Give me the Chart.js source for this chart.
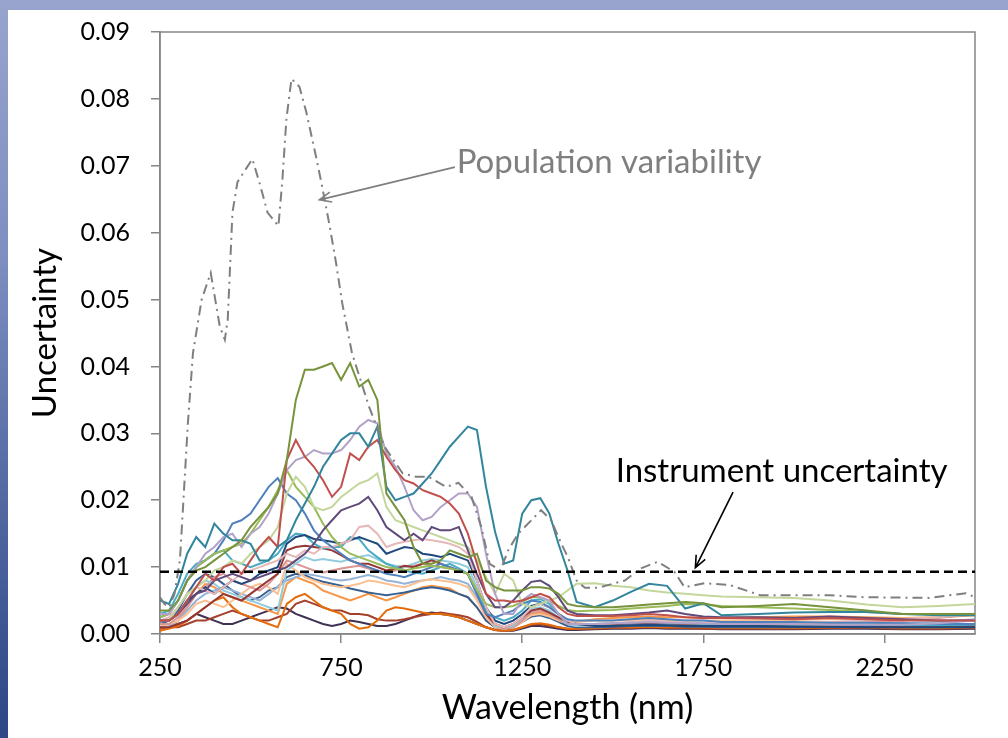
<!DOCTYPE html>
<html>
<head>
<meta charset="utf-8">
<script src="https://cdn.jsdelivr.net/npm/chart.js@4.4.0/dist/chart.umd.min.js"></script>
<style>
  html, body { margin: 0; padding: 0; }
  body {
    width: 1008px; height: 738px; overflow: hidden; position: relative;
    background: linear-gradient(to bottom, #98a4cd 0%, #7d8ec0 35%, #4f66a0 70%, #2c4785 100%);
  }
  #panel { position: absolute; left: 8px; top: 10px; width: 1000px; height: 728px; background: #fff; }
</style>
</head>
<body>
<div id="panel"><canvas id="chart" width="1000" height="728"></canvas></div>
<script>
// wavelength grid (nm) shared by the sample curves
const wavelengths = [250,275,300,325,350,375,400,425,450,475,
  500,525,550,575,600,625,650,675,700,725,
  750,775,800,825,850,875,900,925,950,975,
  1000,1025,1050,1075,1100,1125,1150,1175,1200,1225,
  1250,1275,1300,1325,1350,1375,1400,
  1450,1500,1550,1600,1650,1700,1750,1800,
  1900,2000,2100,2200,2300,2400,2500];

const xTicks = [250, 750, 1250, 1750, 2250];

const olive = [0.0035,0.0035,0.005,0.008,0.0095,0.010,0.011,0.012,0.013,0.014,
  0.016,0.0175,0.019,0.021,0.026,0.035,0.0395,0.0395,0.040,0.0405,
  0.038,0.0405,0.037,0.038,0.035,0.021,0.019,0.017,0.013,0.0105,
  0.0105,0.011,0.0125,0.012,0.0115,0.012,0.008,0.007,0.0065,0.0065,
  0.0065,0.007,0.007,0.0068,0.006,0.0045,0.0042,
  0.004,0.004,0.0042,0.0044,0.0046,0.0048,0.0046,0.004,
  0.0042,0.0045,0.004,0.0035,0.003,0.003,0.003];

const teal = [0.005,0.0045,0.0075,0.012,0.0145,0.013,0.0165,0.015,0.014,0.014,
  0.0135,0.011,0.011,0.013,0.014,0.017,0.0195,0.022,0.025,0.027,
  0.029,0.030,0.030,0.028,0.031,0.022,0.020,0.0205,0.021,0.0225,
  0.024,0.026,0.028,0.0295,0.031,0.0305,0.022,0.0153,0.0105,0.011,
  0.018,0.020,0.0203,0.018,0.0135,0.0095,0.0048,
  0.004,0.005,0.0063,0.0075,0.0072,0.0038,0.0046,0.0028,
  0.003,0.0032,0.0033,0.0033,0.003,0.0028,0.0028];

const red = [0.002,0.002,0.003,0.005,0.007,0.009,0.008,0.010,0.0105,0.009,
  0.011,0.013,0.0145,0.013,0.026,0.029,0.0265,0.025,0.023,0.0205,
  0.022,0.027,0.026,0.028,0.029,0.0265,0.0245,0.023,0.0225,0.0215,
  0.021,0.0205,0.0195,0.018,0.015,0.0105,0.006,0.005,0.005,0.0048,
  0.005,0.0055,0.006,0.0055,0.004,0.003,0.0027,
  0.0027,0.0027,0.0028,0.003,0.0028,0.0025,0.0024,0.0024,
  0.0023,0.0022,0.0024,0.0022,0.002,0.002,0.002];

const lavender = [0.003,0.003,0.005,0.008,0.010,0.012,0.013,0.0145,0.015,0.013,
  0.015,0.016,0.018,0.021,0.0245,0.026,0.0265,0.0275,0.027,0.027,
  0.0275,0.029,0.031,0.032,0.0315,0.027,0.025,0.022,0.0185,0.017,
  0.0175,0.019,0.020,0.021,0.021,0.019,0.012,0.006,0.003,0.003,
  0.005,0.006,0.0055,0.005,0.003,0.0015,0.0015,
  0.0015,0.0016,0.0017,0.0018,0.0017,0.0016,0.0016,0.0015,
  0.0015,0.0015,0.0014,0.0014,0.0014,0.0016,0.002];

const paleGreen = [0.002,0.002,0.004,0.006,0.007,0.008,0.0095,0.010,0.011,0.0105,
  0.012,0.013,0.014,0.016,0.021,0.0235,0.022,0.019,0.0185,0.019,
  0.0205,0.0215,0.0225,0.023,0.024,0.019,0.017,0.0165,0.016,0.0155,
  0.015,0.0145,0.014,0.0135,0.013,0.011,0.0085,0.006,0.009,0.008,
  0.0045,0.004,0.0045,0.005,0.0055,0.0065,0.0075,
  0.0076,0.0072,0.007,0.0065,0.0062,0.006,0.0058,0.0056,
  0.0055,0.0054,0.005,0.0044,0.004,0.0042,0.0045];

const green = [0.0025,0.003,0.005,0.008,0.010,0.011,0.012,0.0125,0.013,0.0135,
  0.015,0.017,0.019,0.0215,0.0245,0.022,0.0205,0.019,0.0165,0.0145,
  0.013,0.012,0.0115,0.011,0.0105,0.010,0.0098,0.0095,0.0098,0.010,
  0.0102,0.010,0.0098,0.0095,0.009,0.0065,0.0045,0.004,0.004,0.0042,
  0.0048,0.0055,0.0055,0.005,0.0042,0.0036,0.0034,
  0.0035,0.0036,0.0038,0.004,0.0042,0.0045,0.0044,0.0042,
  0.004,0.0038,0.0036,0.0033,0.003,0.003,0.0028];

const purple = [0.002,0.002,0.003,0.0045,0.006,0.0065,0.008,0.0085,0.009,0.0085,
  0.008,0.0085,0.009,0.0095,0.010,0.011,0.012,0.0135,0.0155,0.017,
  0.0185,0.019,0.0195,0.0205,0.0185,0.016,0.015,0.014,0.015,0.014,
  0.016,0.0155,0.0155,0.016,0.0125,0.009,0.006,0.004,0.004,0.005,
  0.0065,0.0078,0.008,0.0072,0.0055,0.0035,0.003,
  0.0028,0.0028,0.003,0.0032,0.0035,0.003,0.0026,0.0025,
  0.0025,0.0024,0.0026,0.0024,0.0022,0.002,0.002];

const blue = [0.0025,0.003,0.005,0.008,0.010,0.011,0.012,0.014,0.0165,0.017,
  0.018,0.020,0.022,0.0233,0.021,0.020,0.018,0.0155,0.014,0.013,
  0.012,0.011,0.0105,0.010,0.0095,0.009,0.0088,0.0085,0.009,0.0095,
  0.010,0.0105,0.010,0.0095,0.009,0.006,0.003,0.0025,0.003,0.0035,
  0.0045,0.005,0.0048,0.004,0.003,0.0022,0.002,
  0.002,0.002,0.0022,0.0024,0.0022,0.002,0.002,0.0018,
  0.0018,0.0018,0.0017,0.0017,0.0016,0.0015,0.0015];

const navy = [0.002,0.002,0.003,0.005,0.006,0.007,0.006,0.007,0.008,0.0075,
  0.008,0.009,0.0095,0.010,0.0135,0.0145,0.0148,0.0142,0.014,0.0138,
  0.0135,0.014,0.0145,0.014,0.0135,0.012,0.0125,0.013,0.0128,0.012,
  0.0118,0.0115,0.012,0.0115,0.011,0.008,0.004,0.002,0.0015,0.002,
  0.003,0.0042,0.0045,0.004,0.003,0.002,0.0015,
  0.0012,0.0012,0.0013,0.0014,0.0013,0.0012,0.0012,0.0012,
  0.0012,0.0011,0.0011,0.001,0.001,0.001,0.001];

const aqua = [0.003,0.0035,0.006,0.009,0.0105,0.011,0.012,0.0125,0.011,0.0105,
  0.010,0.0105,0.011,0.012,0.014,0.015,0.0148,0.0135,0.0128,0.013,
  0.013,0.0145,0.0142,0.0125,0.0115,0.0105,0.010,0.0095,0.0092,0.009,
  0.0095,0.010,0.0105,0.0098,0.009,0.006,0.0035,0.0025,0.002,0.0025,
  0.0035,0.005,0.0052,0.0045,0.003,0.002,0.0015,
  0.0015,0.0016,0.0017,0.0018,0.0017,0.0016,0.0015,0.0015,
  0.0015,0.0014,0.0014,0.0014,0.0013,0.0013,0.0014];

const darkRed = [0.001,0.001,0.0015,0.002,0.003,0.004,0.005,0.006,0.0055,0.005,
  0.006,0.007,0.008,0.009,0.0125,0.013,0.0132,0.013,0.0128,0.0125,
  0.0118,0.011,0.0105,0.0105,0.010,0.0095,0.0098,0.0102,0.010,0.0105,
  0.011,0.0105,0.010,0.0095,0.009,0.006,0.003,0.0015,0.001,0.0015,
  0.0025,0.0035,0.0038,0.0032,0.0025,0.0018,0.0015,
  0.0015,0.0015,0.0016,0.0017,0.0016,0.0015,0.0015,0.0014,
  0.0014,0.0014,0.0013,0.0013,0.0012,0.0012,0.0012];

const pink = [0.002,0.0025,0.004,0.006,0.007,0.0065,0.006,0.007,0.008,0.009,
  0.0095,0.010,0.0105,0.011,0.012,0.0115,0.0125,0.012,0.013,0.013,
  0.0135,0.014,0.016,0.0162,0.015,0.013,0.0135,0.0138,0.014,0.0142,
  0.014,0.0138,0.0135,0.013,0.012,0.008,0.004,0.0015,0.001,0.0015,
  0.0025,0.004,0.0045,0.004,0.003,0.002,0.0015,
  0.0015,0.0016,0.0018,0.002,0.0019,0.0017,0.0016,0.0016,
  0.0016,0.0017,0.0018,0.002,0.0022,0.0025,0.003];

const orange = [0.001,0.001,0.002,0.004,0.006,0.0075,0.007,0.006,0.0055,0.005,
  0.0045,0.004,0.0035,0.003,0.0075,0.0085,0.008,0.0075,0.0065,0.006,
  0.0055,0.005,0.0055,0.006,0.0055,0.005,0.0055,0.006,0.0065,0.007,
  0.0072,0.007,0.0068,0.006,0.0055,0.004,0.002,0.001,0.0008,0.001,
  0.002,0.003,0.0032,0.0028,0.002,0.0015,0.0018,
  0.0022,0.0024,0.0025,0.0026,0.0025,0.0025,0.0024,0.0024,
  0.0025,0.0026,0.0026,0.0025,0.0024,0.0025,0.0028];

const darkOrange = [0.0005,0.0008,0.0012,0.002,0.003,0.004,0.005,0.0055,0.004,0.003,
  0.0025,0.002,0.0015,0.001,0.0045,0.0055,0.006,0.005,0.004,0.0035,
  0.003,0.0015,0.0008,0.001,0.002,0.0035,0.004,0.0038,0.0035,0.0032,
  0.003,0.003,0.0028,0.0025,0.002,0.0015,0.001,0.0006,0.0005,0.0006,
  0.001,0.0015,0.0016,0.0014,0.001,0.0008,0.0008,
  0.0009,0.001,0.001,0.0011,0.001,0.001,0.001,0.0009,
  0.0009,0.0009,0.001,0.001,0.0009,0.0009,0.001];

const darkPurple = [0.001,0.001,0.0015,0.002,0.003,0.0025,0.002,0.0015,0.0015,0.002,
  0.0025,0.003,0.0035,0.004,0.0038,0.003,0.0025,0.002,0.0015,0.0012,
  0.0015,0.002,0.0018,0.0015,0.0012,0.0012,0.0015,0.002,0.0025,0.003,
  0.0032,0.003,0.0028,0.0025,0.002,0.0015,0.001,0.0006,0.0005,0.0005,
  0.0008,0.0012,0.0012,0.001,0.0008,0.0006,0.0006,
  0.0007,0.0008,0.0008,0.0009,0.0008,0.0008,0.0008,0.0007,
  0.0007,0.0007,0.0008,0.0008,0.0007,0.0007,0.0008];

const brick = [0.0008,0.001,0.001,0.0015,0.002,0.002,0.0025,0.003,0.0035,0.003,
  0.0025,0.002,0.002,0.0025,0.003,0.0045,0.005,0.0045,0.004,0.0035,
  0.0035,0.003,0.003,0.0028,0.0022,0.002,0.002,0.0022,0.0025,0.0028,
  0.003,0.0032,0.003,0.0028,0.0025,0.0018,0.001,0.0006,0.0005,0.0006,
  0.001,0.0014,0.0015,0.0012,0.001,0.0008,0.0008,
  0.0008,0.0009,0.0009,0.001,0.0009,0.0009,0.0008,0.0008,
  0.0008,0.0008,0.0009,0.0009,0.0008,0.0008,0.0009];

const lightBlue = [0.002,0.002,0.003,0.005,0.007,0.008,0.0075,0.0065,0.006,0.0055,
  0.005,0.0045,0.004,0.0035,0.0095,0.0105,0.0115,0.011,0.0112,0.011,
  0.0108,0.0112,0.0115,0.0118,0.0112,0.0105,0.0102,0.010,0.0105,0.011,
  0.0112,0.011,0.0108,0.0105,0.010,0.007,0.0035,0.0012,0.001,0.0012,
  0.0025,0.0038,0.004,0.0035,0.0025,0.0015,0.0012,
  0.0013,0.0014,0.0015,0.0016,0.0015,0.0014,0.0014,0.0013,
  0.0013,0.0013,0.0014,0.0015,0.0016,0.0018,0.002];

const salmon = [0.0015,0.0015,0.0025,0.004,0.006,0.007,0.0085,0.009,0.008,0.0075,
  0.007,0.0065,0.0075,0.009,0.011,0.0105,0.010,0.0095,0.0092,0.0095,
  0.0098,0.010,0.0102,0.0098,0.0095,0.0092,0.0095,0.010,0.0102,0.0105,
  0.0102,0.010,0.0098,0.0095,0.009,0.0065,0.003,0.0012,0.0008,0.001,
  0.002,0.0032,0.0035,0.003,0.0022,0.0015,0.0012,
  0.0012,0.0013,0.0014,0.0015,0.0014,0.0013,0.0013,0.0013,
  0.0014,0.0015,0.0016,0.0018,0.002,0.0024,0.003];

const lightOrange = [0.0012,0.0015,0.002,0.003,0.0045,0.005,0.0045,0.004,0.005,0.006,
  0.007,0.0075,0.007,0.006,0.0105,0.0095,0.0085,0.008,0.0075,0.0072,
  0.007,0.0072,0.0075,0.008,0.0078,0.0075,0.0072,0.007,0.0075,0.008,
  0.0082,0.008,0.0078,0.0075,0.007,0.005,0.0025,0.001,0.0008,0.001,
  0.0018,0.0028,0.003,0.0026,0.002,0.0016,0.0018,
  0.002,0.002,0.0021,0.0022,0.0021,0.002,0.002,0.002,
  0.002,0.0021,0.0022,0.0022,0.0023,0.0025,0.003];

const blueGray = [0.001,0.0012,0.002,0.0035,0.005,0.006,0.0065,0.007,0.0065,0.006,
  0.0055,0.005,0.006,0.007,0.008,0.0085,0.009,0.0088,0.0085,0.0082,
  0.008,0.0082,0.0085,0.0088,0.0085,0.008,0.0078,0.0075,0.0078,0.008,
  0.0082,0.0085,0.0082,0.008,0.0075,0.0055,0.0028,0.0012,0.001,0.0012,
  0.0022,0.0035,0.0038,0.0032,0.0024,0.0016,0.0013,
  0.0014,0.0014,0.0015,0.0016,0.0015,0.0014,0.0014,0.0014,
  0.0014,0.0014,0.0015,0.0015,0.0016,0.0018,0.0022];

const midBlue = [0.0015,0.002,0.0035,0.006,0.008,0.009,0.0085,0.0075,0.0065,0.0055,
  0.005,0.0055,0.0065,0.007,0.0085,0.009,0.0088,0.0082,0.0078,0.0075,
  0.0072,0.0068,0.0065,0.0062,0.006,0.0058,0.006,0.0062,0.0065,0.0068,
  0.007,0.0068,0.0065,0.006,0.0055,0.004,0.002,0.001,0.0008,0.001,
  0.0018,0.0026,0.0028,0.0024,0.0018,0.0012,0.001,
  0.001,0.0011,0.0012,0.0012,0.0012,0.0011,0.0011,0.001,
  0.001,0.001,0.0011,0.0011,0.001,0.001,0.0012];

// population variability curve (own wavelength sampling)
const popWl = [250,262,275,290,305,327,341,365,390,415,
  429,437,450,464,505,525,547,577,588,599,
  613,635,654,681,698,717,736,753,780,827,
  870,920,956,992,1040,1074,1110,1137,1160,1190,
  1211,1239,1275,1302,1330,1357,1376,1400,1423,1459,
  1533,1577,1624,1670,1698,1753,1824,1863,1907,2008,
  2099,2192,2374,2475,2500];
const popVal = [0.0055,0.0045,0.004,0.006,0.011,0.0315,0.042,0.050,0.054,0.046,
  0.044,0.047,0.063,0.0676,0.071,0.0674,0.063,0.061,0.068,0.077,
  0.083,0.0818,0.078,0.0713,0.0668,0.0614,0.0555,0.0495,0.042,0.034,
  0.028,0.024,0.0235,0.0235,0.022,0.0226,0.0205,0.016,0.0105,0.0095,
  0.0125,0.015,0.017,0.0185,0.017,0.0136,0.0115,0.008,0.0069,0.0069,
  0.008,0.0098,0.0108,0.0093,0.007,0.0076,0.0073,0.0066,0.0058,0.0058,
  0.0058,0.0055,0.0054,0.0061,0.0055];

const instrumentLevel = 0.0093;

// annotation anchors in data units (wavelength, uncertainty)
const popLabel = { text: 'Population variability', wl: 1069, val: 0.0689, from: [1064, 0.0698], to: [690, 0.0649] };
const instLabel = { text: 'Instrument uncertainty', wl: 1508, val: 0.0227, from: [1832, 0.0212], to: [1728, 0.0099] };

const FONT = 'Lato';

function curve(vals) {
  return wavelengths.map((w, i) => ({ x: w, y: vals[i] }));
}

function line(vals, color) {
  return { data: curve(vals), borderColor: color, borderWidth: 2, pointRadius: 0, tension: 0, fill: false };
}

function drawArrow(ctx, x1, y1, x2, y2, color) {
  const ang = Math.atan2(y2 - y1, x2 - x1);
  const len = 13;
  ctx.save();
  ctx.strokeStyle = color;
  ctx.lineWidth = 1.6;
  ctx.beginPath();
  ctx.moveTo(x1, y1);
  ctx.lineTo(x2, y2);
  ctx.moveTo(x2 - len * Math.cos(ang - 0.4), y2 - len * Math.sin(ang - 0.4));
  ctx.lineTo(x2, y2);
  ctx.lineTo(x2 - len * Math.cos(ang + 0.4), y2 - len * Math.sin(ang + 0.4));
  ctx.stroke();
  ctx.restore();
}

const framePlugin = {
  id: 'frame',
  beforeDatasetsDraw(chart) {
    const { ctx, chartArea: a } = chart;
    ctx.save();
    ctx.strokeStyle = '#868686';
    ctx.lineWidth = 1.5;
    ctx.strokeRect(a.left, a.top, a.right - a.left, a.bottom - a.top);
    ctx.restore();
  }
};

const notesPlugin = {
  id: 'notes',
  afterDatasetsDraw(chart) {
    const { ctx } = chart;
    const xs = chart.scales.x, ys = chart.scales.y;
    const notes = [[popLabel, '#7f7f7f'], [instLabel, '#000000']];
    notes.forEach(([n, color]) => {
      ctx.save();
      ctx.font = '33px ' + FONT;
      ctx.fillStyle = color;
      ctx.textAlign = 'left';
      ctx.textBaseline = 'alphabetic';
      ctx.fillText(n.text, xs.getPixelForValue(n.wl), ys.getPixelForValue(n.val));
      ctx.restore();
      drawArrow(ctx, xs.getPixelForValue(n.from[0]), ys.getPixelForValue(n.from[1]),
        xs.getPixelForValue(n.to[0]), ys.getPixelForValue(n.to[1]), color);
    });
  }
};

const datasets = [
  { data: [{ x: 250, y: instrumentLevel }, { x: 2500, y: instrumentLevel }], borderColor: '#000', borderWidth: 2.5, borderDash: [9, 5], pointRadius: 0 },
  { data: popWl.map((w, i) => ({ x: w, y: popVal[i] })), borderColor: '#7f7f7f', borderWidth: 2, borderDash: [10, 5, 2, 5], pointRadius: 0, tension: 0 },
  line(olive, '#77933C'),
  line(teal, '#31859C'),
  line(red, '#C0504D'),
  line(lavender, '#B3A2C7'),
  line(purple, '#604A7B'),
  line(paleGreen, '#C3D69B'),
  line(green, '#9BBB59'),
  line(blue, '#4F81BD'),
  line(pink, '#E6B9B8'),
  line(navy, '#1F497D'),
  line(aqua, '#4BACC6'),
  line(darkRed, '#953735'),
  line(lightBlue, '#93CDDD'),
  line(salmon, '#D99694'),
  line(lightOrange, '#FAC090'),
  line(blueGray, '#95B3D7'),
  line(midBlue, '#376092'),
  line(orange, '#F79646'),
  line(darkOrange, '#E46C0A'),
  line(brick, '#A5402D'),
  line(darkPurple, '#403152')
];

new Chart(document.getElementById('chart'), {
  type: 'line',
  data: { datasets: datasets },
  plugins: [framePlugin, notesPlugin],
  options: {
    responsive: false,
    animation: false,
    devicePixelRatio: 1,
    layout: { padding: { left: 0, right: 33, top: 22, bottom: 0 } },
    plugins: { legend: { display: false }, tooltip: { enabled: false } },
    scales: {
      x: {
        type: 'linear',
        min: 250,
        max: 2500,
        afterBuildTicks: axis => { axis.ticks = xTicks.map(v => ({ value: v })); },
        afterFit: axis => { axis.height = 104; },
        grid: { drawOnChartArea: false, color: '#868686', lineWidth: 1.5, tickLength: 9 },
        border: { color: '#868686', width: 1.5 },
        ticks: { color: '#000', padding: 10, font: { family: FONT, size: 25 }, maxRotation: 0, callback: v => String(v) },
        title: { display: true, text: 'Wavelength (nm)', color: '#000', font: { family: FONT, size: 34 }, padding: { top: 0, bottom: 10 } }
      },
      y: {
        min: 0,
        max: 0.09,
        afterFit: axis => { axis.width = 152; axis.paddingTop = 0; axis.paddingBottom = 0; },
        grid: { drawOnChartArea: false, color: '#868686', lineWidth: 1.5, tickLength: 9 },
        border: { color: '#868686', width: 1.5 },
        ticks: { stepSize: 0.01, color: '#000', padding: 21, font: { family: FONT, size: 25 }, callback: v => v.toFixed(2) },
        title: { display: true, text: 'Uncertainty', color: '#000', font: { family: FONT, size: 33 }, padding: { top: 18, bottom: 0 } }
      }
    }
  }
});
</script>
</body>
</html>
